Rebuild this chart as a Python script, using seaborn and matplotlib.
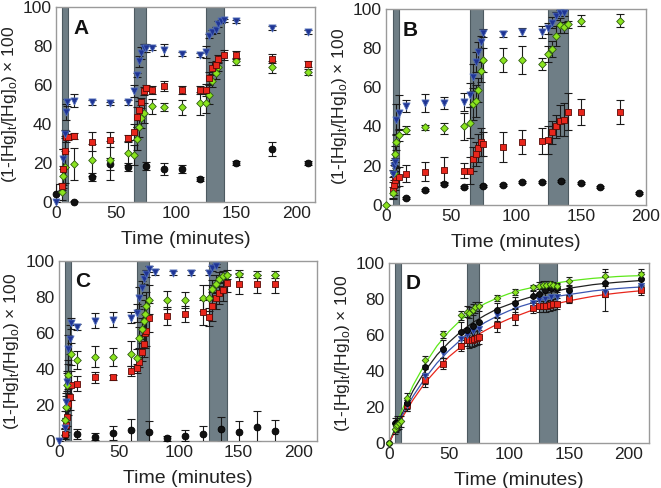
import numpy as np
import pandas as pd
import matplotlib
matplotlib.use("Agg")
import matplotlib.pyplot as plt
import seaborn as sns

sns.set_theme(style="white")
plt.rcParams["font.family"] = ["Liberation Sans", "DejaVu Sans"]

# shaded exposure windows (minutes)
bands = [(5, 10), (65, 75), (125, 140)]

# ---------------- panel A ----------------
a_blue_t = [0, 6, 7, 8, 9, 15, 30, 45, 60, 65, 67, 69, 71, 73, 75, 80, 90, 105, 120, 125, 127, 130, 133, 135, 137, 140, 150, 180, 210]
a_blue_y = [0, 22, 35, 46, 51, 52, 51, 50.5, 51, 57, 65, 72, 76.5, 79, 79, 79, 78, 76, 75.5, 77, 85, 87, 88, 91, 92.5, 93, 92.5, 89, 87]
a_blue_e = [0, 5, 2, 4, 2, 3.5, 1.5, 1, 1.5, 3, 1, 3, 3, 2, 2, 1, 3, 1, 1, 3, 1, 1, 1.5, 1.5, 1, 1, 1, 1, 1]
a_red_t = [5, 6, 7, 8, 10, 15, 30, 45, 60, 65, 67, 69, 71, 73, 75, 80, 90, 105, 120, 125, 127, 130, 133, 135, 140, 150, 180, 210]
a_red_y = [8, 17, 26, 33.5, 33.5, 34, 31, 32, 33, 36, 43.5, 47, 51.5, 57, 58.5, 57.5, 59.5, 57.5, 57.5, 57.5, 63.5, 68.5, 70, 73.5, 75.5, 75.5, 73.5, 70.5]
a_red_e = [2, 10, 8, 3, 1.5, 1.5, 5, 4, 1.5, 4, 5, 5, 2, 2, 1.5, 2, 2.5, 2, 2, 3, 3, 3, 2, 2, 2.5, 2, 2.5, 1.5]
a_green_t = [5, 6, 7, 15, 30, 45, 60, 65, 67, 69, 71, 73, 80, 90, 105, 120, 125, 127, 130, 133, 135, 150, 180, 210]
a_green_y = [5, 13.5, 18, 19.5, 21.5, 21.5, 25, 24, 32.5, 38.5, 43, 45.5, 49, 48.5, 48.5, 50.5, 50.5, 55, 62, 66, 69, 72, 69, 66.5]
a_green_e = [4, 5, 8, 8, 8, 10, 6, 5, 6, 5, 5, 5, 4, 2, 4, 6, 5, 5, 3, 3, 2, 2, 3, 1.5]
a_black_t = [0, 15, 30, 45, 60, 75, 90, 105, 120, 150, 180, 210]
a_black_y = [4, 0, 13, 19.5, 18, 18.5, 17, 17, 12, 20, 27, 20]
a_black_e = [5, 0.5, 2, 3, 2, 2, 3, 2, 1, 1, 3.5, 1]

# ---------------- panel B ----------------
b_blue_t = [5, 6, 7, 8, 10, 15, 30, 45, 60, 65, 67, 69, 71, 73, 75, 90, 105, 120, 125, 128, 131, 134, 137]
b_blue_y = [16, 20, 22, 43.5, 47, 50.5, 52, 52, 52.5, 56, 65, 73, 78, 83, 87.5, 87, 88, 88, 90, 93, 96.5, 98, 98]
b_blue_e = [2, 3, 2, 8, 9, 3, 4.5, 3, 4.5, 6, 7, 5, 5, 3, 2, 1.5, 2, 3, 3, 3, 2, 1.5, 1.5]
b_green_t = [0, 5, 6, 7, 8, 10, 15, 30, 45, 60, 65, 67, 69, 71, 73, 75, 90, 105, 120, 125, 128, 131, 134, 137, 140, 150, 180]
b_green_y = [0, 6, 16.5, 26, 32, 35.5, 38, 39.5, 39, 40, 42, 51.5, 53, 58.5, 68.5, 74, 74, 74, 72, 77, 79.5, 86, 91.5, 90.5, 92, 94, 94]
b_green_e = [0, 3, 4, 4, 4, 3, 2, 1.5, 3, 7, 8, 8, 8, 6, 6, 6, 6, 7, 3, 4, 4, 5, 4, 3, 2, 3, 3.5]
b_red_t = [5, 6, 7, 8, 10, 15, 30, 45, 60, 65, 67, 69, 71, 73, 75, 90, 105, 120, 125, 128, 131, 134, 137, 140, 150, 180]
b_red_y = [7.5, 10, 12.5, 14, 14.5, 16, 17, 18, 17.5, 17.5, 23.5, 26, 29, 32, 31, 29.5, 32, 32.5, 33, 37, 40, 43, 43.5, 47.5, 47.5, 47.5]
b_red_e = [4, 5, 5, 5, 5, 4.5, 5, 6.5, 4, 7, 6, 6, 7, 7, 6, 7.5, 6, 6.5, 7, 6, 6, 8, 8.5, 9.5, 6.5, 6]
b_black_t = [15, 30, 45, 60, 75, 90, 105, 120, 135, 150, 165, 195]
b_black_y = [3.5, 7.5, 10.5, 9, 9.5, 10, 11.5, 11.5, 12, 11, 9, 6]
b_black_e = [0.5, 0.5, 0.5, 0.5, 0.5, 0.5, 0.5, 0.5, 0.5, 0.5, 0.5, 0.5]

# ---------------- panel C ----------------
c_blue_t = [0, 5, 6, 7, 8, 9, 10, 15, 30, 45, 60, 65, 67, 69, 71, 73, 75, 80, 95, 110, 125, 128, 131]
c_blue_y = [0, 7.5, 22, 33, 51, 56.5, 65.5, 63.5, 67, 67.5, 68.5, 71, 79.5, 85, 90, 93, 95.5, 94, 93.5, 93.5, 93.5, 96, 97.5]
c_blue_e = [0, 4, 5, 5, 8, 8, 3, 1.5, 4, 4, 3, 5, 6, 4, 3, 2, 1.5, 1.5, 1, 1.5, 1.5, 1.5, 1]
c_green_t = [5, 6, 7, 8, 10, 15, 30, 45, 60, 65, 67, 69, 71, 72, 73, 75, 90, 105, 120, 125, 128, 131, 134, 137, 140, 150, 165, 180]
c_green_y = [12, 19, 31, 37, 48.5, 45, 47, 47, 48.5, 46, 57.5, 62.5, 67, 70.5, 75, 78.5, 78.5, 78.5, 79.5, 79.5, 84.5, 87, 90, 91.5, 92.5, 93, 92.5, 92.5]
c_green_e = [5, 6, 8, 8, 6, 5, 6, 5, 7, 5, 6, 6, 8, 8, 8, 8, 5, 4.5, 7, 7, 5, 5, 4, 3, 2.5, 2, 2, 2]
c_red_t = [5, 6, 7, 8, 9, 10, 15, 30, 45, 60, 65, 67, 69, 71, 72, 73, 75, 90, 105, 120, 125, 128, 131, 134, 137, 140, 150, 165, 180]
c_red_y = [4, 9, 13.5, 20.5, 24.5, 31, 32, 35.5, 35.5, 39, 40.5, 44, 49.5, 54, 60, 61, 68.5, 69.5, 70.5, 71.5, 69, 75, 79.5, 82, 84, 88, 87.5, 87.5, 87]
c_red_e = [3, 4, 5, 6, 7, 8, 4, 3, 1.5, 3, 2.5, 3, 5, 7, 8, 8, 8, 5, 4.5, 7, 5, 8, 6, 6, 6, 5, 6, 5, 5]
c_black_t = [5, 15, 30, 45, 60, 75, 90, 105, 120, 135, 150, 165, 180]
c_black_y = [3.5, 4, 2.5, 4.5, 6, 5, 1.5, 3, 4, 6.5, 5, 8, 5.5]
c_black_e = [4, 3, 2, 4, 6.5, 6, 1.5, 3, 4.5, 7, 6, 8.5, 6.5]

# ---------------- panel D ----------------
d_green_t = [0, 5, 6, 7, 8, 10, 15, 30, 45, 60, 65, 67, 70, 72, 75, 90, 105, 120, 125, 128, 131, 134, 137, 140, 150, 180, 210]
d_green_y = [0, 8, 9.5, 10, 11, 12, 25, 46, 60.5, 71, 73, 72.5, 74, 75.5, 76, 80.5, 84, 86.5, 87.5, 88, 88, 88.5, 88, 87, 90, 93, 94]
d_green_e = [0, 3, 3, 3, 3, 3, 3, 2.5, 2, 2.5, 3, 3, 3, 3, 2.5, 1.5, 1.5, 1.5, 2, 2, 2, 1.5, 1.5, 1.5, 2.5, 3.5, 2.5]
d_black_t = [0, 5, 6, 7, 15, 30, 45, 60, 65, 70, 75, 90, 105, 120, 125, 130, 135, 140, 150, 180, 210]
d_black_y = [0, 11, 10, 11, 22, 42, 52, 61.5, 63, 65, 67.5, 74, 78, 81.5, 83, 85, 86, 86, 85, 89, 91]
d_black_e = [0, 3, 4, 4, 3, 4, 5, 6, 9, 9, 9, 4, 3, 3, 4, 4, 3, 3, 3, 6, 4]
d_blue_t = [15, 30, 45, 60, 65, 70, 75, 90, 105, 120, 125, 130, 135, 140, 150, 180, 210]
d_blue_y = [21, 37, 50, 58, 60, 62, 63.5, 71, 76, 78, 79.5, 80, 81, 81, 83, 84, 87]
d_blue_e = [3, 4, 3, 4, 4, 4, 4, 3, 3, 3, 4, 4, 4, 3, 3, 3, 2]
d_red_t = [15, 30, 45, 60, 65, 67, 69, 71, 73, 75, 90, 105, 120, 125, 128, 131, 134, 137, 140, 150, 180, 210]
d_red_y = [21, 35, 44, 54, 57, 57, 57.5, 58, 58.5, 59, 65.5, 70, 75, 76, 76, 76, 76.5, 77, 77.5, 80, 83, 85]
d_red_e = [3, 4, 3, 3, 3, 4, 4, 4, 4, 4, 4, 4.5, 3, 3, 3, 3, 3, 3, 3, 2, 9.5, 3]

# fitted curves every 10 minutes
fit_t = [0, 10, 20, 30, 40, 50, 60, 70, 80, 90, 100, 110, 120, 130, 140, 150, 160, 170, 180, 190, 200, 210]
fit_green = [0, 17, 32, 44, 54, 62, 68.5, 73.5, 77.5, 80.5, 83, 85, 86.5, 88, 89, 90, 90.8, 91.5, 92, 92.5, 92.8, 93]
fit_black = [0, 15, 29, 40, 49, 56, 62, 67, 71, 74.5, 77, 79.5, 81.5, 83, 84.5, 86, 87, 88, 88.7, 89.3, 89.8, 90.3]
fit_blue = [0, 14, 26, 36, 44.5, 51.5, 57.5, 62.5, 67, 70.5, 73.5, 76, 78, 80, 81.5, 82.5, 83.5, 84.5, 85.2, 85.8, 86.3, 86.7]
fit_red = [0, 13, 24, 33.5, 41, 48, 53.5, 58.5, 62.5, 66, 69, 71.5, 74, 76, 77.5, 79, 80.3, 81.5, 82.5, 83.3, 84, 84.6]

styles = {
    "black": dict(marker="o", color="#111111", edge="#000000", s=24),
    "red": dict(marker="s", color="#e8261c", edge="#5a0a05", s=24),
    "green": dict(marker="D", color="#8ae41e", edge="#2f5a12", s=15),
    "blue": dict(marker="v", color="#1f3494", edge="#4f6cb8", s=26),
}
line_colors = {"green": "#5ee81a", "black": "#222222", "blue": "#3a55b0", "red": "#e8261c"}

panels = {
    "A": dict(rect=[0.085, 0.586, 0.392, 0.400], xmax=216, series=[
        ("black", a_black_t, a_black_y, a_black_e), ("green", a_green_t, a_green_y, a_green_e),
        ("red", a_red_t, a_red_y, a_red_e), ("blue", a_blue_t, a_blue_y, a_blue_e)]),
    "B": dict(rect=[0.584, 0.580, 0.393, 0.402], xmax=200, series=[
        ("black", b_black_t, b_black_y, b_black_e), ("red", b_red_t, b_red_y, b_red_e),
        ("green", b_green_t, b_green_y, b_green_e), ("blue", b_blue_t, b_blue_y, b_blue_e)]),
    "C": dict(rect=[0.089, 0.096, 0.390, 0.369], xmax=215, series=[
        ("black", c_black_t, c_black_y, c_black_e), ("red", c_red_t, c_red_y, c_red_e),
        ("green", c_green_t, c_green_y, c_green_e), ("blue", c_blue_t, c_blue_y, c_blue_e)]),
    "D": dict(rect=[0.5885, 0.092, 0.394, 0.369], xmax=217, series=[
        ("red", d_red_t, d_red_y, d_red_e), ("blue", d_blue_t, d_blue_y, d_blue_e),
        ("black", d_black_t, d_black_y, d_black_e), ("green", d_green_t, d_green_y, d_green_e)]),
}

fig = plt.figure(figsize=(6.61, 4.88), dpi=100)

for name, p in panels.items():
    ax = fig.add_axes(p["rect"])
    for lo, hi in bands:
        ax.axvspan(lo, hi, facecolor="#6f7e86", edgecolor="#4d5a61", linewidth=0.8, zorder=1)

    small = name == "D"
    if small:
        fits = pd.DataFrame({"t": fit_t * 4,
                             "y": fit_green + fit_black + fit_blue + fit_red,
                             "s": ["green"] * 22 + ["black"] * 22 + ["blue"] * 22 + ["red"] * 22})
        sns.lineplot(data=fits, x="t", y="y", hue="s", palette=line_colors, linewidth=0.9,
                     legend=False, ax=ax, zorder=2)

    for key, t, y, e in p["series"]:
        st = styles[key]
        ax.errorbar(t, y, yerr=e, fmt="none", ecolor="#1a1a1a", elinewidth=0.8,
                    capsize=2.2 if small else 2.6, capthick=0.8, zorder=3)
        df = pd.DataFrame({"t": t, "y": y})
        sns.scatterplot(data=df, x="t", y="y", marker=st["marker"], color=st["color"],
                        edgecolor=st["edge"], linewidth=0.6,
                        s=st["s"] * (0.75 if small else 1.0),
                        ax=ax, zorder=4, clip_on=False)

    ax.set_xlim(0, p["xmax"])
    ax.set_ylim(0, 100)
    ax.set_xticks([0, 50, 100, 150, 200])
    ax.set_yticks([0, 20, 40, 60, 80, 100])
    ax.tick_params(direction="in", length=3, width=0.8, colors="#444444", labelsize=12.5,
                   labelcolor="#222222", pad=3)
    for sp in ax.spines.values():
        sp.set_color("#9a9a9a")
        sp.set_linewidth(1.0)
    ax.set_xlabel("Time (minutes)", fontsize=14, labelpad=7, color="#222222")
    ax.set_ylabel(r"(1-[Hg]$_{\mathregular{t}}$/[Hg]$_{\mathregular{o}}$) × 100", fontsize=12.5,
                  labelpad=3, color="#222222")
    ax.text(0.065, 0.94, name, transform=ax.transAxes, fontsize=15, fontweight="bold",
            va="top", ha="left", color="#111111", zorder=5)

fig.savefig("out.png", dpi=100)
